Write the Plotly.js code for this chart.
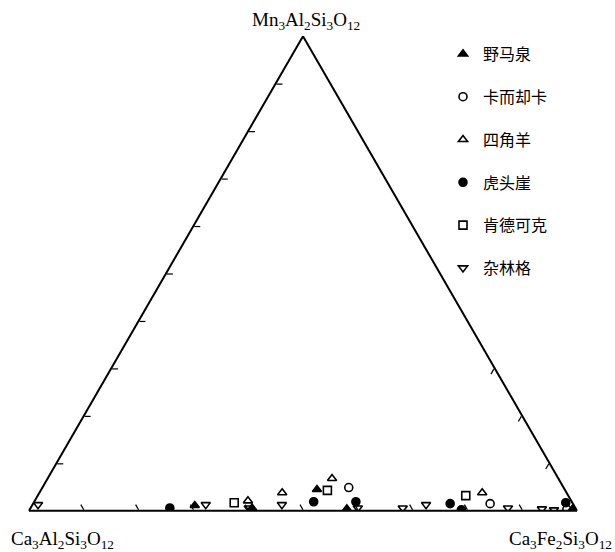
<!DOCTYPE html>
<html>
<head>
<meta charset="utf-8">
<script src="https://cdn.plot.ly/plotly-3.0.1.min.js"></script>
<style>html,body{margin:0;padding:0;background:#fff;}#chart{width:615px;height:552px;}</style>
</head>
<body>
<div id="chart"></div>
<script>
// Series names (legend order)
const seriesNames = ["野马泉", "卡而却卡", "四角羊", "虎头崖", "肯德可克", "杂林格"];
const seriesSymbols = ["triangle-up", "circle-open", "triangle-up-open", "circle", "square-open", "triangle-down-open"];

// a = Mn3Al2Si3O12 (top), b = Ca3Al2Si3O12 (left), c = Ca3Fe2Si3O12 (right)
const yemaquan_a = [0.011, 0.006, 0.045, 0.004, 0.004];
const yemaquan_b = [0.692, 0.590, 0.452, 0.418, 0.006];
const yemaquan_c = [0.297, 0.404, 0.503, 0.578, 0.990];

const kaerqueka_a = [0.049, 0.015, 0.003];
const kaerqueka_b = [0.392, 0.151, 0.017];
const kaerqueka_c = [0.559, 0.834, 0.980];

const sijiaoyang_a = [0.021, 0.038, 0.068, 0.038];
const sijiaoyang_b = [0.590, 0.519, 0.413, 0.154];
const sijiaoyang_c = [0.389, 0.443, 0.519, 0.808];

const hutouya_a = [0.006, 0.019, 0.019, 0.015, 0.002, 0.017];
const hutouya_b = [0.740, 0.471, 0.394, 0.224, 0.210, 0.012];
const hutouya_c = [0.254, 0.510, 0.587, 0.761, 0.788, 0.971];

const kendekeke_a = [0.017, 0.043, 0.032];
const kendekeke_b = [0.617, 0.434, 0.187];
const kendekeke_c = [0.366, 0.523, 0.781];

const zalinge_a = [0.013, 0.013, 0.006, 0.013, 0.006, 0.006, 0.013, 0.006, 0.004, 0.002];
const zalinge_b = [0.977, 0.671, 0.596, 0.532, 0.397, 0.315, 0.269, 0.123, 0.062, 0.041];
const zalinge_c = [0.010, 0.316, 0.398, 0.455, 0.597, 0.679, 0.718, 0.871, 0.934, 0.957];

// axis tick values
const aTicks = [0.1, 0.2, 0.3, 0.4, 0.5, 0.6, 0.7, 0.8, 0.9];
const bTicks = [0.1, 0.2, 0.3, 0.4, 0.5, 0.6, 0.7, 0.8, 0.9];
const cTicks = [0.7, 0.8, 0.9];

const apexLabels = ["Mn<sub>3</sub>Al<sub>2</sub>Si<sub>3</sub>O<sub>12</sub>",
                    "Ca<sub>3</sub>Al<sub>2</sub>Si<sub>3</sub>O<sub>12</sub>",
                    "Ca<sub>3</sub>Fe<sub>2</sub>Si<sub>3</sub>O<sub>12</sub>"];

const seriesData = [
  [yemaquan_a, yemaquan_b, yemaquan_c],
  [kaerqueka_a, kaerqueka_b, kaerqueka_c],
  [sijiaoyang_a, sijiaoyang_b, sijiaoyang_c],
  [hutouya_a, hutouya_b, hutouya_c],
  [kendekeke_a, kendekeke_b, kendekeke_c],
  [zalinge_a, zalinge_b, zalinge_c]
];

const traces = seriesData.map((d, i) => ({
  type: 'scatterternary',
  mode: 'markers',
  name: seriesNames[i],
  legendgroup: 'g' + i,
  a: d[0], b: d[1], c: d[2],
  marker: {symbol: seriesSymbols[i], size: 8, color: '#000', line: {color: '#000', width: 1.6}},
  hoverinfo: 'skip'
}));

function ax(ticks) {
  return {
    min: 0,
    showgrid: false,
    showticklabels: false,
    linecolor: '#000',
    linewidth: 2,
    ticks: 'inside',
    ticklen: 6,
    tickwidth: 1.2,
    tickcolor: '#000',
    tickmode: 'array',
    tickvals: ticks,
    title: {text: ''}
  };
}

const L = 29, R = 38, T = 36, B = 41;
const W = 615 - L - R, H = 552 - T - B;
function px(x) { return (x - L) / W; }
function py(y) { return 1 - (y - T) / H; }

const labelFont = {family: 'Liberation Serif, Times New Roman, serif', size: 19, color: '#000'};

const layout = {
  width: 615, height: 552,
  margin: {l: L, r: R, t: T, b: B, pad: 0},
  paper_bgcolor: '#fff',
  showlegend: true,
  legend: {
    x: px(443), y: py(37), xanchor: 'left', yanchor: 'top',
    font: {family: 'Noto Sans CJK SC, sans-serif', size: 16, color: '#000'},
    tracegroupgap: 19,
    itemwidth: 30,
    bgcolor: 'rgba(0,0,0,0)'
  },
  ternary: {
    sum: 1,
    bgcolor: '#fff',
    domain: {x: [0, 1], y: [0, 1]},
    aaxis: ax(aTicks),
    baxis: ax(bTicks),
    caxis: ax(cTicks)
  },
  annotations: [
    {text: apexLabels[0], xref: 'paper', yref: 'paper', x: px(306), y: py(21), xanchor: 'center', yanchor: 'middle', showarrow: false, font: labelFont},
    {text: apexLabels[1], xref: 'paper', yref: 'paper', x: px(62), y: py(540), xanchor: 'center', yanchor: 'middle', showarrow: false, font: labelFont},
    {text: apexLabels[2], xref: 'paper', yref: 'paper', x: px(560), y: py(540), xanchor: 'center', yanchor: 'middle', showarrow: false, font: labelFont}
  ]
};

Plotly.newPlot('chart', traces, layout, {staticPlot: true, displayModeBar: false});
</script>
</body>
</html>
